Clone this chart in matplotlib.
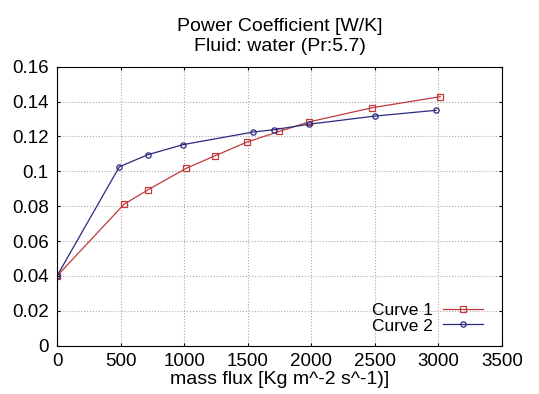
import matplotlib; matplotlib.use("Agg")
import matplotlib.pyplot as plt

plt.rcParams['font.family'] = ['Liberation Sans', 'DejaVu Sans']

# curve 1 (red squares)
x1 = [0, 527, 713, 1015, 1246, 1495, 1749, 1985, 2481, 3013]
y1 = [0.040, 0.0811, 0.0893, 0.1017, 0.109, 0.1168, 0.1229, 0.1284, 0.1365, 0.1428]
# curve 2 (blue circles)
x2 = [0, 490, 713, 991, 1539, 1710, 1980, 2502, 2982]
y2 = [0.040, 0.1026, 0.1095, 0.1153, 0.1225, 0.1239, 0.127, 0.1317, 0.135]

xticks = [0, 500, 1000, 1500, 2000, 2500, 3000, 3500]
yticks = [0, 0.02, 0.04, 0.06, 0.08, 0.1, 0.12, 0.14, 0.16]
ylabels = ['0', '0.02', '0.04', '0.06', '0.08', '0.1', '0.12', '0.14', '0.16']

fig = plt.figure(figsize=(5.39, 3.94), dpi=100)
ax = fig.add_axes([0.1058, 0.1226, 0.8256, 0.7081])

ax.plot(x1, y1, '-s', color='#c03a3a', lw=0.9, ms=4.6, mfc='none', mew=0.9, label='Curve 1')
ax.plot(x2, y2, '-o', color='#2a2a80', lw=0.9, ms=3.8, mfc='none', mew=0.9, label='Curve 2')

ax.set_xlim(0, 3500); ax.set_ylim(0, 0.16)
ax.set_xticks(xticks); ax.set_yticks(yticks)
ax.set_yticklabels(ylabels)
ax.tick_params(labelsize=13.5, direction='in', length=2, top=True, right=True, pad=6)
ax.tick_params(axis='x', pad=5)
ax.xaxis.grid(True, ls=':', color='#c89a9a', lw=0.8)
ax.yaxis.grid(True, ls=':', color='#aaaaaa', lw=0.8)
ax.set_xlabel("mass flux [Kg m^-2 s^-1)]", fontsize=14, labelpad=1)
ax.set_title("Power Coefficient [W/K]\nFluid: water (Pr:5.7)", fontsize=14, linespacing=1.25, pad=11)
ax.legend(loc='lower right', frameon=False, markerfirst=False, fontsize=12.5,
          handlelength=2.3, handletextpad=0.6, labelspacing=0.0, borderaxespad=0.3,
          bbox_to_anchor=(0.985, 0.0))

fig.savefig("out.png", dpi=100)
